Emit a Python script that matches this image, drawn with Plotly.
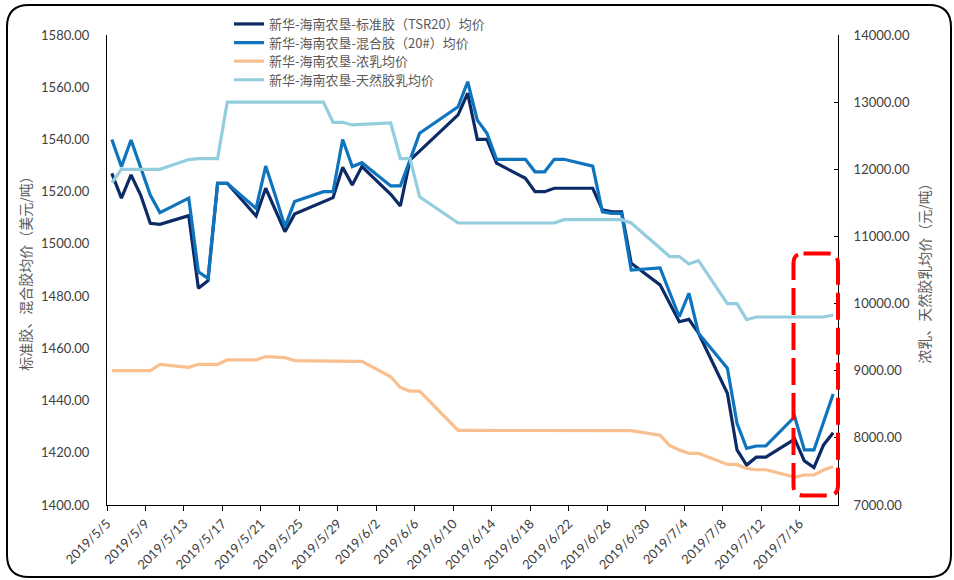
import pandas as pd
import plotly.graph_objects as go

# ---------------- data ----------------
dates = [
    "2019-05-05", "2019-05-06", "2019-05-07", "2019-05-08", "2019-05-09", "2019-05-10",
    "2019-05-13", "2019-05-14", "2019-05-15", "2019-05-16", "2019-05-17",
    "2019-05-20", "2019-05-21", "2019-05-22", "2019-05-23", "2019-05-24",
    "2019-05-27", "2019-05-28", "2019-05-29", "2019-05-30", "2019-05-31",
    "2019-06-03", "2019-06-04", "2019-06-05", "2019-06-06",
    "2019-06-10", "2019-06-11", "2019-06-12", "2019-06-13", "2019-06-14",
    "2019-06-17", "2019-06-18", "2019-06-19", "2019-06-20", "2019-06-21",
    "2019-06-24", "2019-06-25", "2019-06-26", "2019-06-27", "2019-06-28",
    "2019-07-01", "2019-07-02", "2019-07-03", "2019-07-04", "2019-07-05",
    "2019-07-08", "2019-07-09", "2019-07-10", "2019-07-11", "2019-07-12",
    "2019-07-15", "2019-07-16", "2019-07-17", "2019-07-18", "2019-07-19",
]

tsr20 = [
    1527.0, 1517.5, 1526.4, 1518.7, 1507.9, 1507.5,
    1510.8, 1483.0, 1485.9, 1523.2, 1523.2,
    1510.7, 1521.3, 1513.0, 1504.7, 1511.4,
    1516.0, 1517.7, 1529.3, 1522.6, 1529.6,
    1519.0, 1514.5, 1532.1, 1535.5,
    1549.4, 1557.7, 1540.0, 1540.0, 1530.9,
    1525.1, 1520.0, 1520.0, 1521.3, 1521.3,
    1521.3, 1513.0, 1512.3, 1512.3, 1492.6,
    1484.3, 1477.5, 1470.2, 1471.1, 1465.8,
    1442.8, 1421.1, 1415.3, 1418.3, 1418.3,
    1425.2, 1416.9, 1414.3, 1423.0, 1427.7,
]

mix20 = [
    1540.0, 1529.6, 1539.8, 1529.0, 1518.7, 1512.0,
    1517.5, 1489.3, 1486.8, 1523.2, 1523.2,
    1513.6, 1529.8, 1518.5, 1506.6, 1516.2,
    1520.0, 1520.0, 1540.0, 1529.6, 1531.1,
    1522.2, 1522.2, 1532.1, 1542.4,
    1552.5, 1562.1, 1547.4, 1542.4, 1532.4,
    1532.4, 1527.6, 1527.6, 1532.4, 1532.4,
    1529.8, 1512.3, 1511.7, 1511.7, 1490.0,
    1490.8, 1481.4, 1472.1, 1481.1, 1465.8,
    1452.4, 1431.3, 1421.7, 1422.6, 1422.6,
    1433.8, 1421.1, 1421.1, 1431.8, 1442.5,
]

conc_latex = [
    9000, 9000, 9000, 9000, 9000, 9095,
    9050, 9095, 9095, 9095, 9160,
    9160, 9210, 9200, 9195, 9150,
    9140, 9135, 9135, 9140, 9140,
    8910, 8750, 8695, 8695,
    8110, 8110, 8110, 8110, 8110,
    8110, 8100, 8100, 8100, 8100,
    8100, 8105, 8105, 8105, 8108,
    8040, 7885, 7820, 7770, 7770,
    7605, 7600, 7546, 7525, 7525,
    7415, 7447, 7447, 7521, 7575,
]

nat_latex = [
    11800, 12000, 12000, 12000, 12000, 12000,
    12145, 12160, 12160, 12160, 13000,
    13000, 13000, 13000, 13000, 13000,
    13000, 12700, 12700, 12660, 12665,
    12690, 12160, 12160, 11590,
    11200, 11200, 11200, 11200, 11200,
    11200, 11200, 11200, 11200, 11250,
    11250, 11250, 11250, 11250, 11200,
    10830, 10700, 10700, 10590, 10640,
    10000, 10000, 9760, 9800, 9800,
    9800, 9800, 9800, 9800, 9830,
]

series_names = [
    "新华-海南农垦-标准胶（TSR20）均价",
    "新华-海南农垦-混合胶（20#）均价",
    "新华-海南农垦-浓乳均价",
    "新华-海南农垦-天然胶乳均价",
]
series_colors = ["#0B2A66", "#0F74BE", "#F9BF8F", "#94CEDE"]

tick_labels = ["2019/5/5", "2019/5/9", "2019/5/13", "2019/5/17", "2019/5/21",
               "2019/5/25", "2019/5/29", "2019/6/2", "2019/6/6", "2019/6/10",
               "2019/6/14", "2019/6/18", "2019/6/22", "2019/6/26", "2019/6/30",
               "2019/7/4", "2019/7/8", "2019/7/12", "2019/7/16"]

left_title = "标准胶、混合胶均价（美元/吨）"
right_title = "浓乳、天然胶乳均价（元/吨）"

# ---------------- layout helpers ----------------
W, H = 954, 580
ML, MR, MT, MB = 107, 116, 35, 75
PW, PH = W - ML - MR, H - MT - MB


def px2paper(px, py):
    return (px - ML) / PW, (H - MB - py) / PH


def rounded_rect_path(x0, y0, x1, y1, r):
    def P(x, y):
        a, b = px2paper(x, y)
        return f"{a:.5f},{b:.5f}"
    return (f"M{P(x0 + r, y0)} L{P(x1 - r, y0)} Q{P(x1, y0)} {P(x1, y0 + r)} "
            f"L{P(x1, y1 - r)} Q{P(x1, y1)} {P(x1 - r, y1)} "
            f"L{P(x0 + r, y1)} Q{P(x0, y1)} {P(x0, y1 - r)} "
            f"L{P(x0, y0 + r)} Q{P(x0, y0)} {P(x0 + r, y0)} Z")


x = pd.to_datetime(dates)
tickvals = pd.to_datetime(tick_labels, format="%Y/%m/%d") - pd.Timedelta(hours=12)
x_range = [x[0] - pd.Timedelta(hours=12), x[-1] + pd.Timedelta(hours=12)]

fig = go.Figure()
vals = [tsr20, mix20, conc_latex, nat_latex]
axes = ["y", "y", "y2", "y2"]
legend_ids = ["legend", "legend2", "legend3", "legend4"]
for name, color, v, ax, lg in zip(series_names, series_colors, vals, axes, legend_ids):
    fig.add_trace(go.Scatter(
        x=x, y=v, name=name, mode="lines", yaxis=ax, legend=lg,
        line=dict(color=color, width=3.2),
    ))

tick_font = dict(family="Lato, 'Noto Sans CJK SC'", size=13, color="#404040")
title_font = dict(family="'Noto Sans CJK SC'", size=14, color="#595959")
legend_font = dict(family="'Noto Sans CJK SC'", size=13, color="#595959")

# each legend row placed at its own pixel row
legend_row_top = [9, 27.6, 46.2, 64.8]
legend_layouts = {}
for lg, top in zip(legend_ids, legend_row_top):
    legend_layouts[lg] = dict(
        x=px2paper(229, 0)[0], y=px2paper(0, top)[1],
        xanchor="left", yanchor="top",
        font=legend_font, bgcolor="rgba(0,0,0,0)", itemwidth=30,
    )

fig.update_layout(
    width=W, height=H,
    margin=dict(l=ML, r=MR, t=MT, b=MB, autoexpand=False),
    paper_bgcolor="white", plot_bgcolor="white",
    showlegend=True,
    **legend_layouts,
    xaxis=dict(
        type="date", range=x_range,
        tickmode="array", tickvals=tickvals, ticktext=tick_labels,
        tickangle=-45, tickfont=tick_font,
        showgrid=False, zeroline=False,
        showline=True, linecolor="black", linewidth=1,
        ticks="outside", ticklen=5, tickcolor="black", tickwidth=1,
    ),
    yaxis=dict(
        range=[1400, 1580], dtick=20, tick0=1400, tickformat=".2f",
        tickfont=tick_font, showgrid=False, zeroline=False,
        showline=True, linecolor="black", linewidth=1,
        ticks="", ticklabelstandoff=14,
        title=dict(text=left_title, font=title_font, standoff=6),
    ),
    yaxis2=dict(
        range=[7000, 14000], dtick=1000, tick0=7000, tickformat=".2f",
        overlaying="y", side="right",
        tickfont=tick_font, showgrid=False, zeroline=False,
        showline=True, linecolor="black", linewidth=1,
        ticks="inside", ticklen=4, tickcolor="black",
        ticklabelstandoff=12,
        title=dict(text=right_title, font=title_font, standoff=11),
    ),
    shapes=[
        dict(type="path", xref="paper", yref="paper",
             path=rounded_rect_path(7, 5, 951, 577, 22),
             line=dict(color="black", width=2), layer="above"),
        dict(type="path", xref="paper", yref="paper",
             path=rounded_rect_path(793.5, 253.5, 838, 495.5, 10),
             line=dict(color="#FF0000", width=4, dash="27px,8px"), layer="above"),
    ],
)

fig.write_html(
    "out.html",
    config={"displayModeBar": False},
    post_script="document.body.style.margin='0';document.body.style.overflow='hidden';",
)
